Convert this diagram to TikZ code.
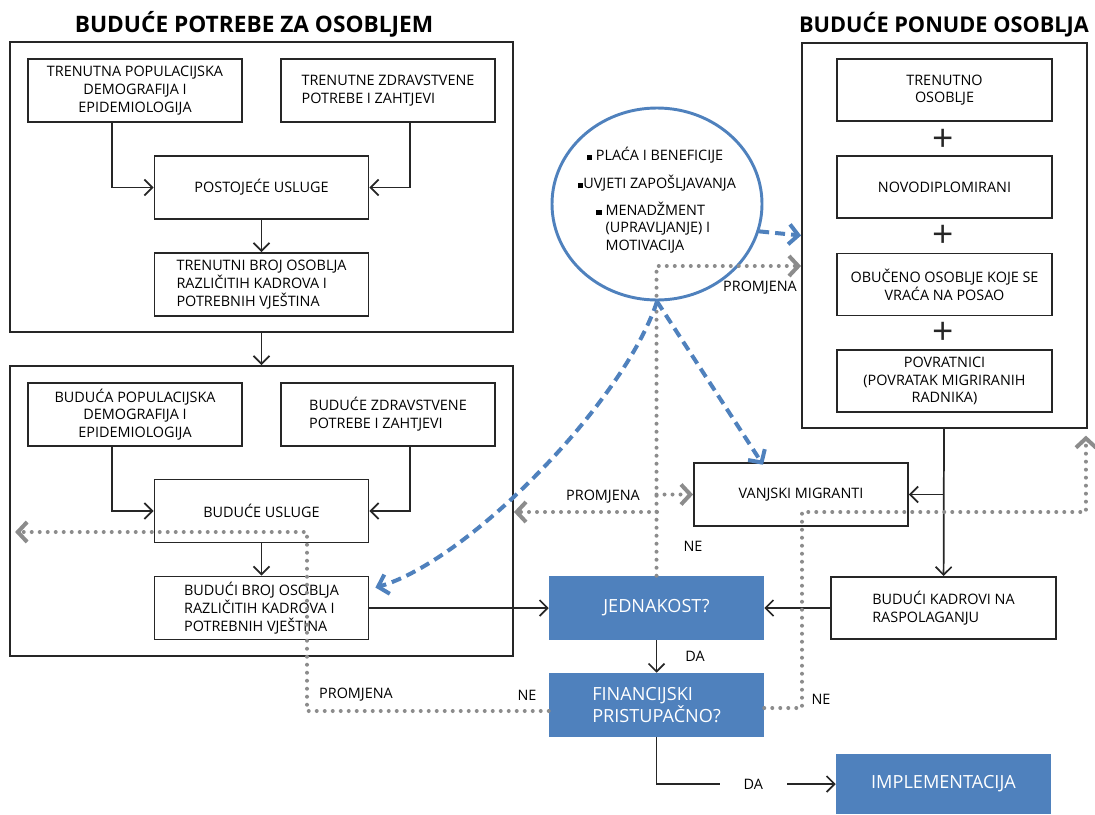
\documentclass[tikz,border=0pt]{standalone}
\usepackage{fontspec}
\setmainfont{Open Sans}
\usetikzlibrary{arrows.meta,shapes.geometric}
\definecolor{plava}{RGB}{79,129,189}
\definecolor{siva}{RGB}{140,140,140}
\definecolor{crna}{RGB}{38,38,38}
\newcommand{\kvadrat}{\rule{4pt}{4pt}}
\begin{document}
\begin{tikzpicture}[x=0.75pt, y=-0.75pt,
  every node/.style = {font=\fontsize{10.8}{13.3}\selectfont, inner sep=0pt},
  kutija/.style = {draw=crna, line width=1.4pt, align=center,
    minimum width=160.5pt, minimum height=47.25pt},
  okvir/.style = {draw=crna, line width=1.4pt, minimum width=377.25pt, minimum height=217.5pt},
  upit/.style = {fill=plava, text=white, align=left, minimum width=161.25pt,
    minimum height=48pt, font=\fontsize{13.6}{17}\selectfont},
  naslov/.style = {font=\fontsize{17}{19}\selectfont\bfseries},
  strelica/.style = {draw=crna, line width=1.3pt, -{Straight Barb[length=6pt,width=12pt]}},
  promjena/.style = {draw=siva, line width=3pt, line cap=round, dash pattern=on 0pt off 6pt,
    -{Straight Barb[length=7pt,width=15pt]}},
  utjecaj/.style = {draw=plava, line width=3pt, dash pattern=on 7.5pt off 4.5pt,
    -{Straight Barb[length=7pt,width=15pt]}}]
  \useasboundingbox (0,0) rectangle (1095,814);

  \node[naslov] (naslov1) at (254,24) {BUDUĆE POTREBE ZA OSOBLJEM};
  \node[naslov, font=\fontsize{16.3}{19}\selectfont\bfseries] (naslov2) at (944,25) {BUDUĆE PONUDE OSOBLJA};

  \node[okvir] (frame1) at (261.5,187) {};
  \node[kutija] (pop1) at (135,90.5) {TRENUTNA POPULACIJSKA\\DEMOGRAFIJA I\\EPIDEMIOLOGIJA};
  \node[kutija, align=left] (zdr1) at (388,90.5) {TRENUTNE ZDRAVSTVENE\\POTREBE I ZAHTJEVI};
  \node[kutija] (uslu1) at (261.5,187.5) {POSTOJEĆE USLUGE};
  \node[kutija, align=left] (broj1) at (261.5,284.5) {TRENUTNI BROJ OSOBLJA\\RAZLIČITIH KADROVA I\\POTREBNIH VJEŠTINA};

  \node[okvir] (frame2) at (261.5,511) {};
  \node[kutija] (pop2) at (135,414.5) {BUDUĆA POPULACIJSKA\\DEMOGRAFIJA I\\EPIDEMIOLOGIJA};
  \node[kutija, align=left] (zdr2) at (388,414.5) {BUDUĆE ZDRAVSTVENE\\POTREBE I ZAHTJEVI};
  \node[kutija] (uslu2) at (261.5,511) {BUDUĆE USLUGE};
  \node[kutija, align=left] (broj2) at (261.5,608) {BUDUĆI BROJ OSOBLJA\\RAZLIČITIH KADROVA I\\POTREBNIH VJEŠTINA};

  \node[okvir, minimum width=213.75pt, minimum height=288.75pt] (frame3) at (944.5,235.5) {};
  \node[kutija, minimum width=161.25pt, minimum height=46.5pt] (trenutno) at (944.5,90) {TRENUTNO\\OSOBLJE};
  \node[kutija, minimum width=161.25pt, minimum height=46.5pt] (novo) at (944.5,187) {NOVODIPLOMIRANI};
  \node[kutija, minimum width=161.25pt, minimum height=46.5pt] (obuceno) at (944.5,284.5) {OBUČENO OSOBLJE KOJE SE\\VRAĆA NA POSAO};
  \node[kutija, minimum width=161.25pt, minimum height=46.5pt] (povrat) at (944.5,381) {POVRATNICI\\(POVRATAK MIGRIRANIH\\RADNIKA)};
  \foreach \y/\ime in {140/plus1, 236/plus2, 333/plus3}
    \node[font=\fontsize{28}{28}\selectfont, text=crna] (\ime) at (943,\y) {+};

  \node[ellipse, draw=plava, line width=2.2pt, minimum width=157.5pt, minimum height=144pt] (krug) at (657,204) {};
  \node (krug1) at (655,155) {\kvadrat\ PLAĆA I BENEFICIJE};
  \node (krug2) at (657,183) {\kvadrat UVJETI ZAPOŠLJAVANJA};
  \node[anchor=base west] (krug3) at (596,215) {\kvadrat\hspace{3pt}\begin{tabular}[t]{@{}l@{}}MENADŽMENT\\(UPRAVLJANJE) I\\MOTIVACIJA\end{tabular}};

  \node[kutija] (vanjski) at (801,494.5) {VANJSKI MIGRANTI};
  \node[kutija, align=left, minimum width=168.75pt, minimum height=46.5pt] (kadrovi) at (943.5,608) {BUDUĆI KADROVI NA\\RASPOLAGANJU};
  \node[upit, align=center] (jednakost) at (656.5,608) {JEDNAKOST?};
  \node[upit] (financ) at (656.5,705) {FINANCIJSKI\\PRISTUPAČNO?};
  \node[upit, align=center, minimum height=45pt] (impl) at (943.5,784) {IMPLEMENTACIJA};

  \draw[strelica] ([xshift=-17.25pt]pop1.south) |- (uslu1);
  \draw[strelica] ([xshift=16.5pt]zdr1.south) |- (uslu1);
  \draw[strelica] (uslu1) -- (broj1);
  \draw[strelica] (frame1) -- (frame2);
  \draw[strelica] ([xshift=-17.25pt]pop2.south) |- (uslu2);
  \draw[strelica] ([xshift=16.5pt]zdr2.south) |- (uslu2);
  \draw[strelica] (uslu2) -- (broj2);
  \draw[strelica] (broj2) -- (jednakost);
  \draw[strelica] (kadrovi) -- (jednakost);
  \draw[strelica] (frame3) -- (kadrovi);
  \draw[strelica] (kadrovi.north |- vanjski) -- (vanjski);
  \draw[strelica] (jednakost) -- (financ);
  \draw[strelica] (financ) |- node[pos=0.77, fill=white, inner xsep=18pt, inner ysep=3pt] (da2) {DA} (impl);
  \node (da1) at (695,656) {DA};

  \coordinate (g1) at (657,266);
  \coordinate (g2) at (657,512);
  \coordinate (g3) at (307,532);
  \coordinate (g4) at (802,512);
  \draw[promjena] (jednakost.north) |- (frame3.west |- g1);
  \draw[promjena] (jednakost.north |- vanjski) -- (vanjski.west);
  \draw[promjena] (g2) -- (frame2.east |- g2);
  \draw[promjena] ([yshift=-4.5pt]financ.west) -| (g3) -- ([xshift=4.5pt]frame2.west |- g3);
  \draw[promjena] ([yshift=-2.25pt]financ.east) -| (g4) -| ([shift={(-1.5pt,-5pt)}]frame3.south east);
  \node (prom1) at (760,288) {PROMJENA};
  \node (prom2) at (603,497) {PROMJENA};
  \node (prom3) at (356,695) {PROMJENA};
  \node (ne1) at (693,546) {NE};
  \node (ne2) at (527,695) {NE};
  \node (ne3) at (821,699) {NE};

  \draw[utjecaj] (krug.-15) -- (frame3.west);
  \draw[utjecaj] (krug.south) .. controls (625,400) and (470,560) .. ([shift={(4.5pt,-9pt)}]broj2.north east);
  \draw[utjecaj] (krug.south) -- ([shift={(-28.5pt,-2pt)}]vanjski.north);
\end{tikzpicture}
\end{document}
